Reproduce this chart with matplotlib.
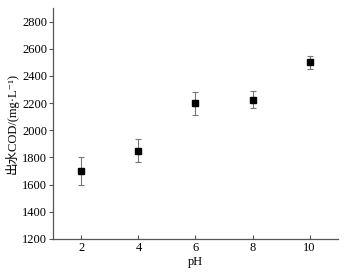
import numpy as np
import matplotlib
matplotlib.use("Agg")
import matplotlib.pyplot as plt

plt.rcParams["font.family"] = ["Liberation Serif", "Noto Sans CJK SC", "DejaVu Serif"]

ph = [2, 4, 6, 8, 10]
cod = [1700, 1850, 2200, 2225, 2500]
err = [100, 82, 85, 62, 48]

fig = plt.figure(figsize=(3.46, 2.74), dpi=100)
ax = fig.add_axes([0.153, 0.128, 0.824, 0.843])

ax.errorbar(ph, cod, yerr=err, fmt="s", color="black", ms=4.5,
            ecolor="#777777", elinewidth=0.8, capsize=2.5, capthick=0.8)

ax.set_xlim(1, 11)
ax.set_ylim(1200, 2900)
ax.set_xticks(ph)
ax.set_yticks(np.arange(1200, 2801, 200))
ax.spines["top"].set_visible(False)
ax.spines["right"].set_visible(False)
for s in ("left", "bottom"):
    ax.spines[s].set_color("#555555")
    ax.spines[s].set_linewidth(0.9)
ax.tick_params(axis="y", direction="out", length=3, width=0.8, labelsize=9, pad=1, color="#555555")
ax.tick_params(axis="x", direction="in", length=3, width=0.8, labelsize=9, pad=2, color="#555555")
ax.set_xlabel("pH", fontsize=9, labelpad=2)
ax.set_ylabel("出水COD/(mg·L⁻¹)", fontsize=9, labelpad=3)

fig.savefig("out.png", dpi=100, facecolor="white")
